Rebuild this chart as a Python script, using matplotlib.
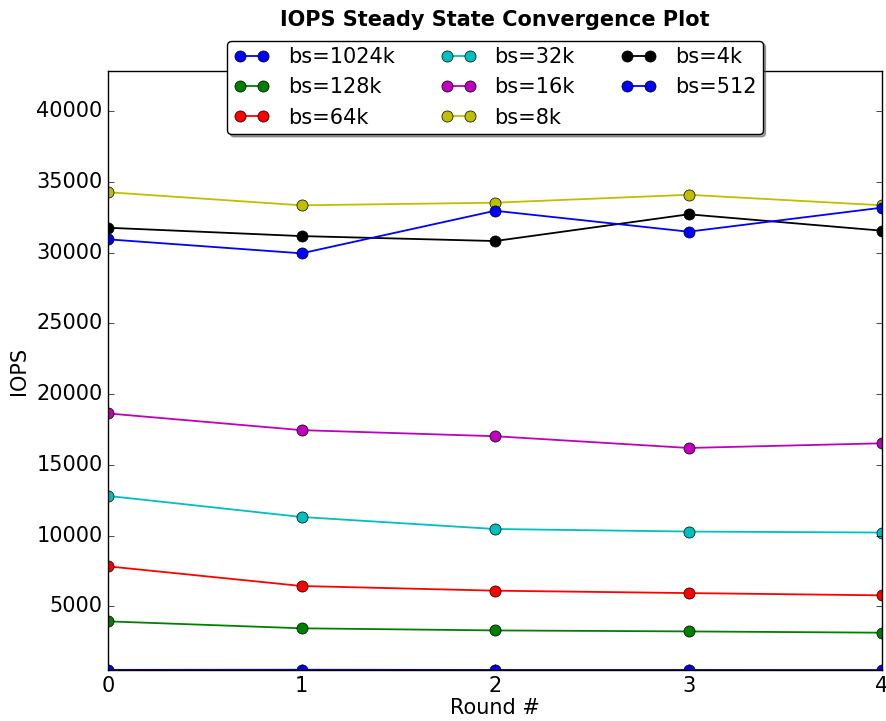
import matplotlib
matplotlib.use("Agg")
import matplotlib.pyplot as plt

# ---- data ----
rounds = [0, 1, 2, 3, 4]
labels = ["bs=1024k", "bs=128k", "bs=64k", "bs=32k",
          "bs=16k", "bs=8k", "bs=4k", "bs=512"]

iops_1024k = [510, 520, 505, 505, 500]
iops_128k = [3940, 3450, 3300, 3230, 3140]
iops_64k = [7830, 6440, 6110, 5940, 5780]
iops_32k = [12810, 11320, 10470, 10290, 10220]
iops_16k = [18640, 17460, 17030, 16200, 16530]
iops_8k = [34280, 33355, 33540, 34100, 33355]
iops_4k = [31770, 31180, 30830, 32720, 31560]
iops_512 = [30950, 29960, 32970, 31490, 33190]

series = [iops_1024k, iops_128k, iops_64k, iops_32k,
          iops_16k, iops_8k, iops_4k, iops_512]
colors = ["b", "g", "r", "c", "m", "y", "k", "b"]

# ---- plot ----
plt.style.use("classic")
plt.rcParams["font.size"] = 15

fig = plt.figure(figsize=(8.87, 7.21), dpi=100)
ax = fig.add_axes([0.1218, 0.0707, 0.8726, 0.8308])

for vals, lab, col in zip(series, labels, colors):
    ax.plot(rounds, vals, "-o", color=col, label=lab,
            markersize=8, linewidth=1.3)

all_vals = [v for s in series for v in s]
ax.set_ylim(min(all_vals), max(all_vals) * 1.25)
ax.set_xlim(0, 4)
ax.set_xticks(rounds)
ax.tick_params(labelsize=15)

ax.set_xlabel("Round #", fontsize=15, labelpad=2)
ax.set_ylabel("IOPS", fontsize=15)
ax.set_title("IOPS Steady State Convergence Plot", fontsize=15,
             fontweight="bold", y=1.063)

ax.legend(loc="upper center", bbox_to_anchor=(0.5, 1.068), ncol=3,
          fancybox=True, shadow=True, numpoints=2, fontsize=15,
          handlelength=1.7, columnspacing=2.2, borderpad=0.3,
          labelspacing=0.5, handletextpad=0.9)

fig.savefig("out.png", dpi=100)
